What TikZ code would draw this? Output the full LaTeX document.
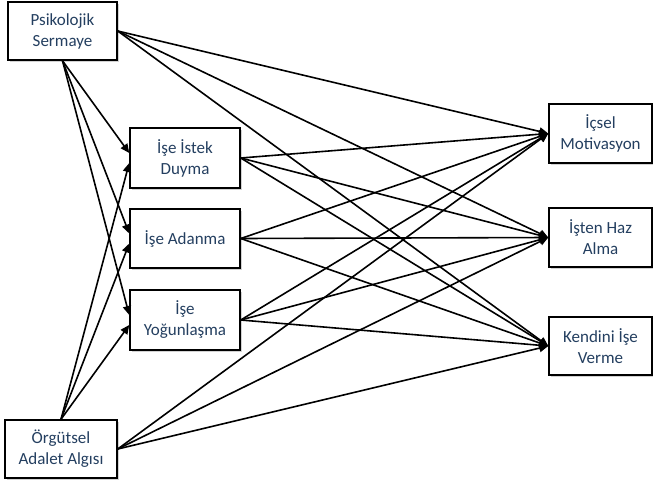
\documentclass[tikz,border=0pt]{standalone}
\usepackage{fontspec}
\setmainfont{Carlito}
\usetikzlibrary{arrows.meta,shadows}
\definecolor{txtblue}{HTML}{243F60}
\begin{document}
\begin{tikzpicture}[x=1pt,y=-1pt,
  box/.style={draw,line width=1.5pt,fill=white,align=center,text=txtblue,
    font=\fontsize{17}{21}\selectfont,inner sep=0pt,
    drop shadow={shadow xshift=1.5pt,shadow yshift=-1.5pt,fill=black!35}},
  link/.style={line width=1.6pt,-{Triangle[length=9pt,width=8pt]}}]
\useasboundingbox (0,0) rectangle (653,485);
%%% exogenous variables
\node[box,minimum width=109pt,minimum height=58pt] (ps) at (62.5,31) {Psikolojik\\Sermaye};
\node[box,minimum width=112pt,minimum height=58pt] (oaa) at (61,449) {Örgütsel\\Adalet Algısı};
%%% mediators
\node[box,minimum width=110pt,minimum height=60pt] (istek) at (185,158) {İşe İstek\\Duyma};
\node[box,minimum width=110pt,minimum height=59pt] (adanma) at (185,238.5) {İşe Adanma};
\node[box,minimum width=110pt,minimum height=60pt] (yogun) at (185,320) {İşe\\Yoğunlaşma};
%%% outcomes
\node[box,minimum width=103pt,minimum height=59pt] (icsel) at (600.5,133.5) {İçsel\\Motivasyon};
\node[box,minimum width=103pt,minimum height=59pt] (haz) at (600.5,237.5) {İşten Haz\\Alma};
\node[box,minimum width=103pt,minimum height=58pt] (kendini) at (600.5,346) {Kendini İşe\\Verme};
%%% paths into the mediators
\foreach \m in {istek,adanma,yogun}{
  \draw[link] (ps.south) -- ([yshift=5pt]\m.west);
  \draw[link] (oaa.north) -- ([yshift=-5pt]\m.west);
}
%%% paths into the outcomes
\foreach \o in {icsel,haz,kendini}{
  \draw[link] (ps.east) -- (\o.west);
  \draw[link] (oaa.east) -- (\o.west);
  \foreach \m in {istek,adanma,yogun}
    \draw[link] (\m.east) -- (\o.west);
}
\end{tikzpicture}
\end{document}
